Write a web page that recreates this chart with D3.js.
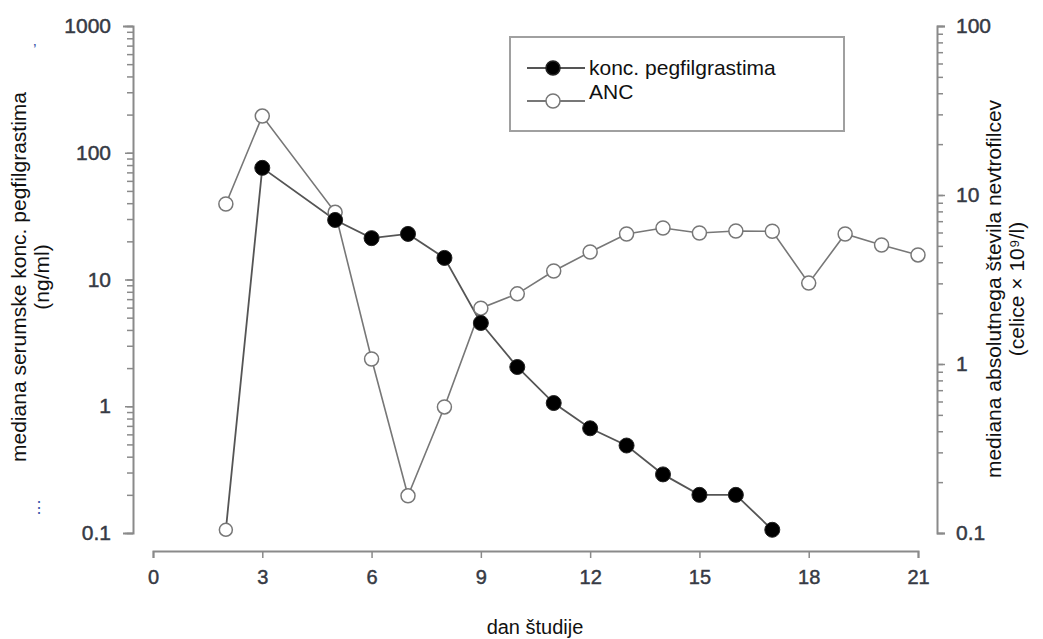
<!DOCTYPE html>
<html>
<head>
<meta charset="utf-8">
<script src="https://cdn.jsdelivr.net/npm/d3@7"></script>
<style>
  html, body { margin: 0; padding: 0; background: #fff; }
  svg { display: block; font-family: "Liberation Sans", Arial, sans-serif; }
</style>
</head>
<body>
<svg id="chart" width="1043" height="639"></svg>
<script>
// ---- data ----
const pegDays   = [2, 3, 5, 6, 7, 8, 9, 10, 11, 12, 13, 14, 15, 16, 17];
const pegValues = [0.106, 76, 29.5, 21.2, 22.9, 14.8, 4.54, 2.04, 1.06, 0.67, 0.49, 0.29, 0.20, 0.20, 0.106];
const pegOpen   = [true, false, false, false, false, false, false, false, false, false, false, false, false, false, false];
const ancDays   = [2, 3, 5, 6, 7, 8, 9, 10, 11, 12, 13, 14, 15, 16, 17, 18, 19, 20, 21];
const ancValues = [8.85, 29.3, 7.9, 1.07, 0.166, 0.557, 2.14, 2.6, 3.55, 4.6, 5.88, 6.38, 5.96, 6.12, 6.1, 3.01, 5.88, 5.06, 4.42];
const xTicks      = [0, 3, 6, 9, 12, 15, 18, 21];
const leftTicks   = [0.1, 1, 10, 100, 1000];
const rightTicks  = [0.1, 1, 10, 100];
const leftTitle   = ["mediana serumske konc. pegfilgrastima", "(ng/ml)"];
const rightTitle  = ["mediana absolutnega števila nevtrofilcev", "(celice × 10⁹/l)"];
const xTitle      = "dan študije";
const legendLabels = ["konc. pegfilgrastima", "ANC"];

// ---- layout ----
const svg = d3.select("#chart");
const x = d3.scaleLinear().domain([0, 21]).range([153, 918]);
const yL = d3.scaleLog().domain([0.1, 1000]).range([533, 26]);
const yR = d3.scaleLog().domain([0.1, 100]).range([533, 26]);
const axisColor = "#8a8a8a";
const labelColor = "#363a44";

function minorTicks(domain) {
  const out = [];
  for (let e = Math.log10(domain[0]); e < Math.log10(domain[1]); e++) {
    for (let k = 1; k <= 9; k++) out.push(k * Math.pow(10, e));
  }
  out.push(domain[1]);
  return out;
}
function styleAxis(g, fs) {
  g.selectAll(".domain").attr("stroke", axisColor).attr("stroke-width", 2);
  g.selectAll(".tick line").attr("stroke", axisColor).attr("stroke-width", 1.5);
  g.selectAll(".tick text").attr("fill", labelColor).attr("font-size", fs || 21)
    .attr("stroke", labelColor).attr("stroke-width", 0.45)
    .attr("font-family", "'Liberation Sans', Arial, sans-serif");
}

// x axis
const gx = svg.append("g").attr("transform", "translate(0,551)")
  .call(d3.axisBottom(x).tickValues(xTicks).tickSize(7).tickSizeOuter(7).tickPadding(12).tickFormat(d3.format("d")));
styleAxis(gx, 20);

// left axis (minor ticks, then labels)
const gLm = svg.append("g").attr("transform", "translate(133,0)")
  .call(d3.axisLeft(yL).tickValues(minorTicks([0.1, 1000])).tickSize(6).tickSizeOuter(10).tickFormat(""));
styleAxis(gLm);
const gL = svg.append("g").attr("transform", "translate(133,0)")
  .call(d3.axisLeft(yL).tickValues(leftTicks).tickSize(8).tickSizeOuter(10).tickPadding(14).tickFormat(d => String(d)));
styleAxis(gL, 21);
gL.select(".domain").remove();

// right axis
const gRm = svg.append("g").attr("transform", "translate(937,0)")
  .call(d3.axisRight(yR).tickValues(minorTicks([0.1, 100])).tickSize(6).tickSizeOuter(8).tickFormat(""));
styleAxis(gRm);
const gR = svg.append("g").attr("transform", "translate(937,0)")
  .call(d3.axisRight(yR).tickValues(rightTicks).tickSize(8).tickSizeOuter(8).tickPadding(11).tickFormat(d => String(d)));
styleAxis(gR, 21);
gR.select(".domain").remove();

// titles
const tsize = 21;
svg.append("text").attr("transform", "translate(26,277) rotate(-90)")
  .attr("text-anchor", "middle").attr("font-size", tsize).attr("fill", "#111").text(leftTitle[0]);
svg.append("text").attr("transform", "translate(49,277) rotate(-90)")
  .attr("text-anchor", "middle").attr("font-size", tsize).attr("fill", "#111").text(leftTitle[1]);
svg.append("text").attr("transform", "translate(1001,289) rotate(-90)")
  .attr("text-anchor", "middle").attr("font-size", tsize).attr("fill", "#111").text(rightTitle[0]);
svg.append("text").attr("transform", "translate(1024,289) rotate(-90)")
  .attr("text-anchor", "middle").attr("font-size", tsize).attr("fill", "#111").text(rightTitle[1]);
svg.append("text").attr("x", 535).attr("y", 634)
  .attr("text-anchor", "middle").attr("font-size", 20).attr("fill", "#111").text(xTitle);

// small stray marks at the left edge of the original scan
svg.append("text").attr("x", 33).attr("y", 56).attr("font-size", 16).attr("fill", "#3a55a8").text("’");
svg.append("text").attr("x", 31).attr("y", 513).attr("font-size", 16).attr("fill", "#3a55a8").text("⋮");

// lines
const pegData = pegDays.map((d, i) => ({ d, v: pegValues[i], open: pegOpen[i] }));
const ancData = ancDays.map((d, i) => ({ d, v: ancValues[i] }));
svg.append("path").datum(ancData)
  .attr("fill", "none").attr("stroke", "#777").attr("stroke-width", 1.6)
  .attr("d", d3.line().x(p => x(p.d)).y(p => yR(p.v)));
svg.append("path").datum(pegData)
  .attr("fill", "none").attr("stroke", "#555").attr("stroke-width", 1.8)
  .attr("d", d3.line().x(p => x(p.d)).y(p => yL(p.v)));

// markers
svg.append("g").selectAll("circle").data(ancData).join("circle")
  .attr("cx", p => x(p.d)).attr("cy", p => yR(p.v)).attr("r", 7)
  .attr("fill", "#fff").attr("stroke", "#777").attr("stroke-width", 1.5);
svg.append("g").selectAll("circle").data(pegData).join("circle")
  .attr("cx", p => x(p.d)).attr("cy", p => yL(p.v)).attr("r", p => p.open ? 6.5 : 7.5)
  .attr("fill", p => p.open ? "#fff" : "#000")
  .attr("stroke", p => p.open ? "#777" : "#222").attr("stroke-width", p => p.open ? 1.5 : 1);

// legend
const lg = svg.append("g");
lg.append("rect").attr("x", 510).attr("y", 37).attr("width", 334).attr("height", 94)
  .attr("fill", "#fff").attr("stroke", "#a0a0a0").attr("stroke-width", 2);
const legRows = [
  { y: 68, ty: 75, fill: "#000", stroke: "#222", line: "#555" },
  { y: 101, ty: 99, fill: "#fff", stroke: "#777", line: "#777" }
];
legRows.forEach((r, i) => {
  lg.append("line").attr("x1", 527).attr("x2", 585).attr("y1", r.y).attr("y2", r.y)
    .attr("stroke", r.line).attr("stroke-width", 2.2);
  lg.append("circle").attr("cx", 553).attr("cy", r.y).attr("r", 7)
    .attr("fill", r.fill).attr("stroke", r.stroke).attr("stroke-width", 1.5);
  lg.append("text").attr("x", 589).attr("y", r.ty).attr("font-size", 21).attr("fill", "#111")
    .text(legendLabels[i]);
});
</script>
</body>
</html>
